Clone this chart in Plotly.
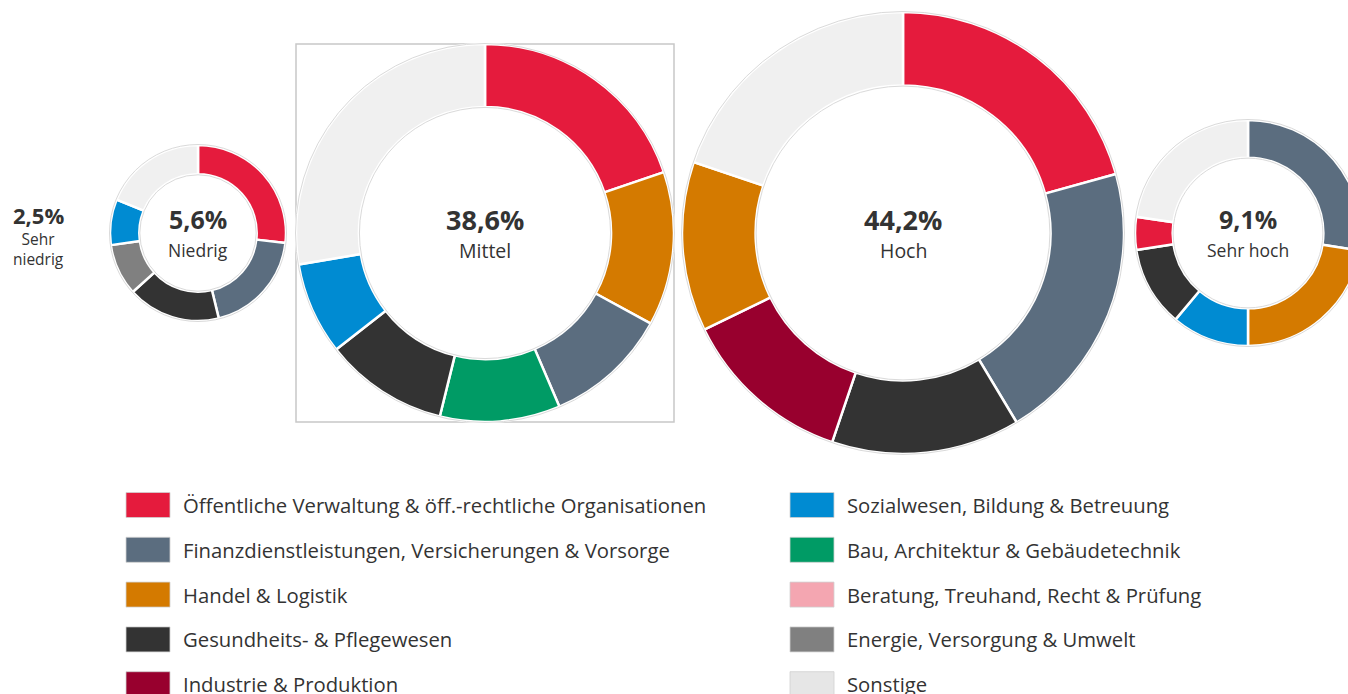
import plotly.graph_objects as go

# ---------------- data ----------------
categories = [
    "Öffentliche Verwaltung & öff.-rechtliche Organisationen",
    "Finanzdienstleistungen, Versicherungen & Vorsorge",
    "Handel & Logistik",
    "Gesundheits- & Pflegewesen",
    "Industrie & Produktion",
    "Sozialwesen, Bildung & Betreuung",
    "Bau, Architektur & Gebäudetechnik",
    "Beratung, Treuhand, Recht & Prüfung",
    "Energie, Versorgung & Umwelt",
    "Sonstige",
]
OEV, FIN, HAN, GES, IND, SOZ, BAU, BER, ENE, SON = categories

level_names = ["Sehr niedrig", "Niedrig", "Mittel", "Hoch", "Sehr hoch"]
level_shares = ["2,5%", "5,6%", "38,6%", "44,2%", "9,1%"]

niedrig_labels = [OEV, FIN, GES, ENE, SOZ, SON]
niedrig_values = [26.8, 19.4, 17.1, 9.5, 8.4, 18.8]

mittel_labels = [OEV, HAN, FIN, BAU, GES, SOZ, SON]
mittel_values = [19.8, 13.2, 10.6, 10.3, 10.6, 7.9, 27.7]

hoch_labels = [OEV, FIN, GES, IND, HAN, SON]
hoch_values = [20.7, 20.7, 13.8, 12.6, 12.4, 19.8]

sehrhoch_labels = [FIN, HAN, SOZ, GES, OEV, SON]
sehrhoch_values = [27.5, 22.5, 11.1, 11.5, 4.7, 22.7]

# ---------------- styles ----------------
colors = {
    OEV: "#E51B3D",
    FIN: "#5B6D7F",
    HAN: "#D47A00",
    GES: "#333333",
    IND: "#98002E",
    SOZ: "#008BD2",
    BAU: "#009B65",
    BER: "#F4A6B1",
    ENE: "#808080",
    SON: "#F0F0F0",
}
legend_colors = dict(colors)
legend_colors[SON] = "#E6E6E6"

W, H = 1364, 694
OFF = 0
FONT = "Open Sans"
TXT = "#333333"
HOLE = 0.667

donuts = [
    # (labels, values, center x, center y, radius, level index) in page pixels
    (niedrig_labels, niedrig_values, 198, 233, 88, 1),
    (mittel_labels, mittel_values, 485, 233, 189, 2),
    (hoch_labels, hoch_values, 903, 233, 221, 3),
    (sehrhoch_labels, sehrhoch_values, 1248, 233, 113, 4),
]

fig = go.Figure()
shapes = []
annotations = []


def px_x(x):
    return (x - OFF) / W


def px_y(y):
    return 1 - (y - OFF) / H


for labels, values, cx, cy, r, li in donuts:
    fx0 = max(0.0, cx - r - OFF)
    fx1 = min(float(W), cx + r - OFF)
    w = fx1 - fx0
    r_eff = min(w / 2, r)
    cx_eff = (fx0 + fx1) / 2 + OFF
    fy0 = cy - r_eff - OFF
    fy1 = cy + r_eff - OFF
    fig.add_trace(go.Pie(
        labels=labels,
        values=values,
        sort=False,
        direction="clockwise",
        rotation=0,
        hole=HOLE,
        textinfo="none",
        hoverinfo="skip",
        showlegend=False,
        marker=dict(colors=[colors[l] for l in labels],
                    line=dict(color="white", width=2.5)),
        domain=dict(x=[fx0 / W, fx1 / W], y=[1 - fy1 / H, 1 - fy0 / H]),
    ))
    # faint outlines
    for rr in (r_eff + 0.5, r_eff * HOLE - 0.5):
        shapes.append(dict(type="circle", xref="paper", yref="paper",
                           x0=px_x(cx_eff - rr), x1=px_x(cx_eff + rr),
                           y0=px_y(cy + rr), y1=px_y(cy - rr),
                           line=dict(color="#DADADA", width=1), layer="above"))
    big = r > 150
    annotations.append(dict(x=px_x(cx), y=px_y(cy - 14), xref="paper", yref="paper",
                            text="<b>%s</b>" % level_shares[li], showarrow=False,
                            font=dict(family=FONT, size=27 if big else 25, color=TXT),
                            xanchor="center", yanchor="middle"))
    annotations.append(dict(x=px_x(cx), y=px_y(cy + 17), xref="paper", yref="paper",
                            text=level_names[li], showarrow=False,
                            font=dict(family=FONT, size=19.5 if big else 17.5, color=TXT),
                            xanchor="center", yanchor="middle"))

# "Sehr niedrig" without donut
annotations.append(dict(x=px_x(38), y=px_y(215), xref="paper", yref="paper",
                        text="<b>%s</b>" % level_shares[0], showarrow=False,
                        font=dict(family=FONT, size=22, color=TXT),
                        xanchor="center", yanchor="middle"))
annotations.append(dict(x=px_x(38), y=px_y(249), xref="paper", yref="paper",
                        text="Sehr<br>niedrig", showarrow=False,
                        font=dict(family=FONT, size=15.5, color=TXT),
                        xanchor="center", yanchor="middle"))

# box around "Mittel"
shapes.append(dict(type="rect", xref="paper", yref="paper",
                   x0=px_x(296), x1=px_x(674), y0=px_y(422), y1=px_y(44),
                   line=dict(color="#C8C8C8", width=1.5), layer="below"))

# custom two-column legend
col_x = [126, 790]
row_y0 = 505
row_dy = 44.8
for i, cat in enumerate(categories):
    col = i // 5
    row = i % 5
    yc = row_y0 + row * row_dy
    xl = col_x[col]
    shapes.append(dict(type="rect", xref="paper", yref="paper",
                       x0=px_x(xl), x1=px_x(xl + 44),
                       y0=px_y(yc + 12.5), y1=px_y(yc - 12.5),
                       fillcolor=legend_colors[cat],
                       line=dict(color="#D0D0D0", width=0.8)))
    annotations.append(dict(x=px_x(xl + 55), y=px_y(yc), xref="paper", yref="paper",
                            text=cat, showarrow=False,
                            font=dict(family=FONT, size=20.3, color=TXT),
                            xanchor="left", yanchor="middle"))

fig.update_layout(
    width=W, height=H,
    margin=dict(l=0, r=0, t=0, b=0),
    paper_bgcolor="white",
    plot_bgcolor="white",
    shapes=shapes,
    annotations=annotations,
    showlegend=False,
)

fig.write_html(
    "out.html",
    config={"displayModeBar": False},
    post_script="document.body.style.margin='0';document.body.style.overflow='hidden';",
)
